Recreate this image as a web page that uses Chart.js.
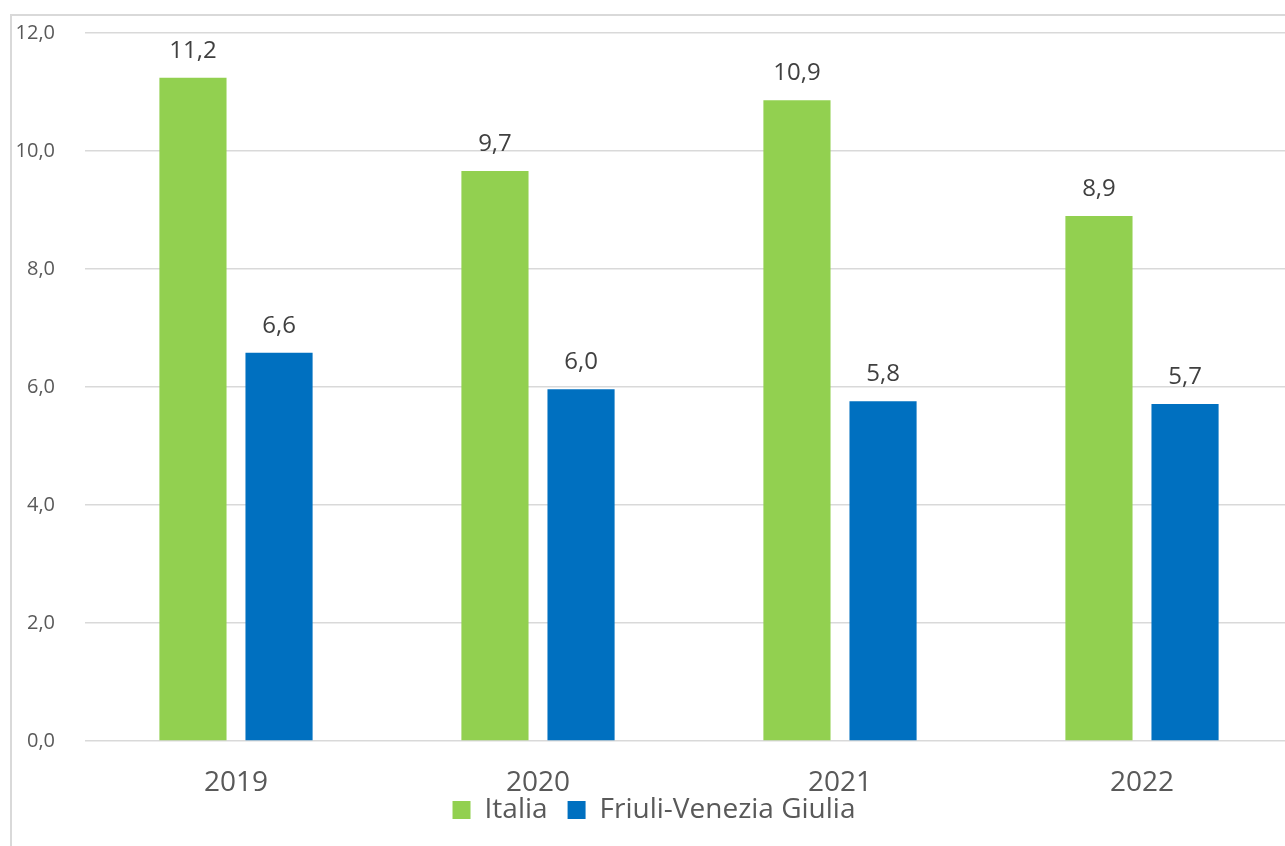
<!DOCTYPE html>
<html>
<head>
<meta charset="utf-8">
<script src="https://cdn.jsdelivr.net/npm/chart.js@4/dist/chart.umd.min.js"></script>
<style>
  html, body { margin: 0; padding: 0; background: #fff; overflow: hidden; }
  #frame { position: absolute; left: 10px; top: 14px; width: 1400px; height: 900px;
           border-top: 2px solid #d9d9d9; border-left: 2px solid #d9d9d9; }
  #wrap { position: absolute; left: 0; top: 0; width: 1300px; height: 846px; }
</style>
</head>
<body>
<div id="frame"></div>
<div id="wrap"><canvas id="chart"></canvas></div>
<script>
const years = ['2019', '2020', '2021', '2022'];
const italia = [11.24, 9.66, 10.86, 8.9];
const friuli = [6.58, 5.96, 5.76, 5.71];
const yTicks = [0, 2, 4, 6, 8, 10, 12];

const fmt = v => v.toFixed(1).replace('.', ',');
const FONT = "'Open Sans', 'Noto Sans', sans-serif";

// draws the value above each bar, like the Excel data labels
const valueLabels = {
  id: 'valueLabels',
  afterDatasetsDraw(chart) {
    const ctx = chart.ctx;
    ctx.save();
    ctx.font = '24px ' + FONT;
    ctx.fillStyle = '#404040';
    ctx.textAlign = 'center';
    ctx.textBaseline = 'middle';
    chart.data.datasets.forEach((ds, i) => {
      chart.getDatasetMeta(i).data.forEach((bar, j) => {
        ctx.fillText(fmt(ds.data[j]), bar.x, bar.y - 27);
      });
    });
    ctx.restore();
  }
};

// wide gaps between legend items, but keep the legend tucked under the year labels
const legendTweak = {
  id: 'legendTweak',
  beforeInit(chart) {
    const lg = chart.legend;
    const fit = lg.fit;
    lg.fit = function () { fit.call(this); this.height = 43; };
  },
  afterLayout(chart) {
    chart.legend.top -= 17;
    chart.legend.bottom -= 17;
  }
};

new Chart(document.getElementById('chart'), {
  type: 'bar',
  data: {
    labels: years,
    datasets: [
      { label: 'Italia', data: italia, backgroundColor: '#92d050' },
      { label: 'Friuli-Venezia Giulia', data: friuli, backgroundColor: '#0070c0' }
    ]
  },
  options: {
    responsive: true,
    maintainAspectRatio: false,
    animation: false,
    categoryPercentage: 0.57,
    barPercentage: 0.78,
    layout: { padding: { top: 33, right: 7, left: 15, bottom: 10 } },
    plugins: {
      tooltip: { enabled: false },
      legend: {
        position: 'bottom',
        labels: {
          font: { family: FONT, size: 28 },
          color: '#595959',
          boxWidth: 18,
          boxHeight: 18,
          padding: 20
        }
      }
    },
    scales: {
      x: {
        grid: { display: false, drawTicks: false },
        border: { display: false },
        ticks: { font: { family: FONT, size: 28 }, color: '#595959', padding: 25 },
        afterFit(scale) { scale.height = 52; }
      },
      y: {
        min: 0,
        max: 12,
        afterBuildTicks(scale) { scale.ticks = yTicks.map(v => ({ value: v })); },
        afterFit(scale) {
          scale.width = 70;
          scale.paddingTop = 0;
          scale.paddingBottom = 0;
        },
        grid: { color: '#d9d9d9', lineWidth: 1.5, drawTicks: false },
        border: { display: false },
        ticks: {
          font: { family: FONT, size: 20 },
          color: '#595959',
          padding: 30,
          callback: v => fmt(v)
        }
      }
    }
  },
  plugins: [valueLabels, legendTweak]
});
</script>
</body>
</html>
